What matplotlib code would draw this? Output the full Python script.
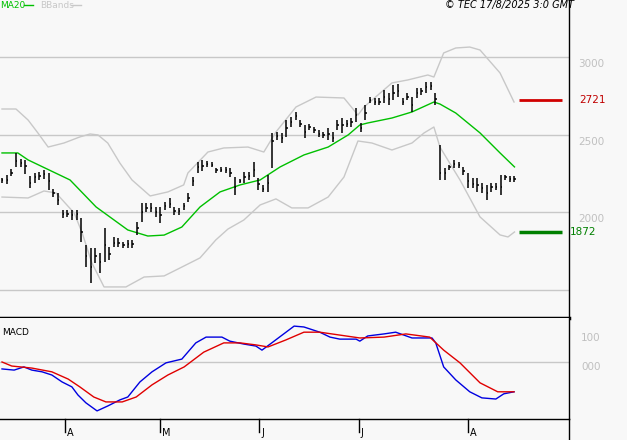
import matplotlib
matplotlib.use("Agg")
import matplotlib.pyplot as plt

highs = [2220,2240,2280,2380,2345,2335,2235,2255,2260,2270,2255,2150,2125,2015,2015,2015,2015,1965,1790,1770,1770,1740,1900,1775,1840,1835,1810,1820,1820,1940,2060,
         2060,2060,2035,2035,2065,2090,2035,2030,2060,2125,2225,2325,2335,2330,2325,2285,2290,2290,2285,2225,2215,2260,2260,2325,2220,2175,2240,2510,
         2515,2510,2595,2615,2645,2595,2560,2570,2550,2530,2515,2545,2515,2595,2605,2595,2605,2670,2575,2690,2740,2735,2735,2785,2770,2820,2825,
         2735,2770,2740,2800,2800,2840,2840,2770,2435,2285,2305,2335,2325,2290,2255,2220,2220,2190,2175,2190,2190,2240,2240,2235,2235]
lows = [2190,2180,2235,2290,2290,2245,2155,2190,2210,2215,2145,2100,2045,1965,1970,1950,1950,1810,1650,1545,1675,1610,1680,1690,1775,1775,1770,1770,1770,1855,1935,
        2000,2000,1970,1930,2015,2025,1985,1985,2015,2065,2170,2250,2265,2290,2290,2255,2260,2255,2225,2110,2190,2190,2210,2225,2145,2130,2130,2285,
        2465,2445,2485,2550,2595,2550,2480,2530,2510,2485,2480,2465,2450,2530,2510,2550,2550,2580,2515,2595,2705,2690,2690,2705,2690,2725,2740,
        2690,2725,2645,2735,2755,2770,2785,2690,2210,2210,2270,2285,2285,2240,2155,2155,2130,2125,2080,2130,2145,2110,2210,2195,2195]
closes = [2205,2210,2255,2330,2315,2300,2190,2225,2235,2245,2200,2125,2080,1990,1990,1985,1990,1870,1720,1650,1720,1680,1790,1730,1805,1800,1790,1795,1795,1900,2000,
          2030,2030,2000,1985,2040,2055,2010,2005,2040,2095,2200,2290,2300,2310,2305,2270,2275,2270,2250,2160,2200,2225,2235,2275,2180,2150,2190,2460,
          2490,2480,2540,2580,2620,2570,2520,2550,2530,2505,2495,2505,2480,2560,2560,2570,2580,2625,2545,2640,2720,2710,2710,2745,2730,2770,2780,
          2710,2745,2690,2770,2780,2805,2810,2730,2250,2250,2290,2310,2305,2265,2200,2185,2175,2155,2125,2160,2165,2160,2225,2215,2215]

ma_x = [0,3.4,5.6,14.6,20.2,27,31.3,34.8,38.6,42.5,46.8,51.1,55.4,59.7,64.8,70,74.3,76.8,78.5,83.7,88,92.7,94,97.4,102.6,106.9,110]
ma_v = [2382,2382,2337,2208,2034,1886,1847,1853,1905,2034,2131,2176,2208,2292,2369,2420,2498,2562,2575,2607,2646,2710,2697,2639,2511,2382,2292]
up_x = [0,3,5.6,7.7,9.9,13.3,16.7,18.9,20.6,22.7,25.3,27.9,31.8,35.6,39,39.9,44.2,47.6,52.8,56.2,58.8,63.1,67.4,73.4,75.5,76.4,77.7,83.7,87.1,91.4,92.7,94.8,97.4,100.4,102.6,106.9,109.9]
up_v = [2665,2665,2594,2511,2420,2446,2485,2504,2498,2446,2317,2208,2105,2131,2176,2253,2388,2414,2420,2388,2517,2678,2742,2736,2659,2626,2678,2833,2852,2884,2871,3026,3058,3064,3045,2897,2710]
lo_x = [0,5.6,9,11.6,15.5,17.2,19.3,21.9,26.6,30.5,34.8,38.2,42.5,45.9,48.5,51.9,55.4,58.8,62.2,65.7,70,73.4,76.4,79.4,83.7,88,90.6,92.7,94,98.3,102.6,106.9,108.6,110]
lo_v = [2098,2092,2137,2124,1995,1867,1673,1519,1519,1583,1590,1641,1706,1822,1892,1950,2047,2086,2028,2028,2098,2227,2459,2446,2401,2446,2511,2549,2420,2208,1970,1854,1841,1873]

macd_x = [0,2.6,4.7,6.4,8.6,10.7,12.9,15,16.3,18,20.4,22.7,25.3,27,29.6,32.2,35.2,38.6,41.6,43.8,47.2,48.9,51.9,54.5,55.8,57.9,62.7,64.8,68.2,70.4,72.5,76,76.8,78.5,82,84.5,88,92.3,93.1,94.8,97.4,100.4,103,106,107.7,109.9]
macd_v = [-24,-28,-17,-28,-34,-45,-69,-86,-114,-141,-169,-152,-131,-121,-69,-34,-3,10,66,86,86,72,62,55,41,66,124,121,103,86,79,79,72,90,97,103,83,83,66,-17,-62,-103,-124,-128,-110,-103]
sig_x = [0,2.1,6.4,10.7,14.2,16.7,19.7,22.3,25.8,28.8,32.2,35.6,39.1,43.3,47.6,51.1,54.5,57.1,60.9,64.8,68.2,72.5,76.8,82,86.7,91.8,94.8,98.3,102.6,106.4,109.9]
sig_v = [0,-14,-21,-34,-59,-86,-121,-138,-138,-121,-79,-45,-17,34,66,66,59,52,76,103,103,93,83,86,97,86,41,-3,-72,-103,-103]

month_pos = [13.5, 33.9, 55.2, 76.6, 100]
month_lab = ["A", "M", "J", "J", "A"]
price_ticks = [3000, 2500, 2000, 1500]
macd_ticks = [100, 0]
resistance, support = 2721, 1872

BG = "#f8f8f8"
W, H = 627, 440
fig = plt.figure(figsize=(W/100, H/100), dpi=100, facecolor=BG)
ax = fig.add_axes([0, 1-318/H, 569/W, 318/H], facecolor=BG)
ax2 = fig.add_axes([0, 1-419/H, 569/W, 101/H], facecolor=BG)
xl = (-0.43, 121.7)
ax.set_xlim(*xl); ax2.set_xlim(*xl)
ax.set_ylim(1319, 3367)
ax2.set_ylim(-197, 152)

for a in (ax, ax2):
    for s in ("left", "top"):
        a.spines[s].set_visible(False)
    a.spines["right"].set_color("black"); a.spines["right"].set_linewidth(1)
    a.set_xticks([]); a.set_yticks([])
ax.spines["bottom"].set_linewidth(2.5)
ax2.spines["bottom"].set_linewidth(1)
fig.lines.append(plt.Line2D([569/W, 569/W], [0, 21/H], color="black", lw=1, transform=fig.transFigure))

for p in price_ticks:
    ax.axhline(p, color="#c8c8c8", lw=1, zorder=0)
    if p != 1500:
        ax.annotate(str(p), (1, p), xycoords=("axes fraction", "data"), xytext=(22, -7),
                    textcoords="offset pixels", ha="center", va="center", fontsize=7.5, color="#c0c0c0")
ax.plot(ma_x, ma_v, color="#00c000", lw=1)
ax.plot(up_x, up_v, color="#c8c8c8", lw=1)
ax.plot(lo_x, lo_v, color="#c8c8c8", lw=1)
idx = list(range(len(highs)))
ax.vlines(idx, lows, highs, color="black", lw=1.1)
ax.hlines(closes, [i for i in idx], [i+0.3 for i in idx], color="black", lw=1.1)

ax.hlines(resistance, 111, 120.2, color="#d00000", lw=2)
ax.annotate(str(resistance), (1, resistance), xycoords=("axes fraction", "data"), xytext=(24, 0),
            textcoords="offset pixels", ha="center", va="center", fontsize=7.5, color="#c00000")
ax.hlines(support, 111, 120.2, color="#008000", lw=2.5)
ax.annotate(str(support), (1, support), xycoords=("axes fraction", "data"), xytext=(14, 0),
            textcoords="offset pixels", ha="center", va="center", fontsize=7.5, color="#008000")

fig.text(0.5/W, 1-5/H, "MA20", color="#00c000", fontsize=6.5, va="center")
fig.lines.append(plt.Line2D([24/W, 33/W], [1-5/H, 1-5/H], color="#00c000", lw=1, transform=fig.transFigure))
fig.text(40/W, 1-5/H, "BBands", color="#c8c8c8", fontsize=6.5, va="center")
fig.lines.append(plt.Line2D([71/W, 81/W], [1-5/H, 1-5/H], color="#c8c8c8", lw=1, transform=fig.transFigure))
fig.text(574/W, 1-5/H, "© TEC 17/8/2025 3:0 GMT", fontsize=7, style="italic", ha="right", va="center")

ax2.axhline(0, color="#c8c8c8", lw=1, zorder=0)
for v in macd_ticks:
    ax2.annotate("%.0f" % v if v else "000", (1, v), xycoords=("axes fraction", "data"), xytext=(22, -5),
                 textcoords="offset pixels", ha="center", va="center", fontsize=7.5, color="#c0c0c0")
ax2.plot(macd_x, macd_v, color="#0000e0", lw=1)
ax2.plot(sig_x, sig_v, color="#e00000", lw=1)
ax2.text(2/569, 1-14/101, "MACD", transform=ax2.transAxes, fontsize=6.5, va="center")

for m, lab in zip(month_pos, month_lab):
    ax2.plot([m, m], [0, -0.13], transform=ax2.get_xaxis_transform(), color="black", lw=1, clip_on=False)
    ax2.annotate(lab, (m, 0), xycoords=("data", "axes fraction"), xytext=(2, -14),
                 textcoords="offset pixels", ha="left", va="center", fontsize=7)

fig.savefig("out.png", dpi=100, facecolor=BG)
